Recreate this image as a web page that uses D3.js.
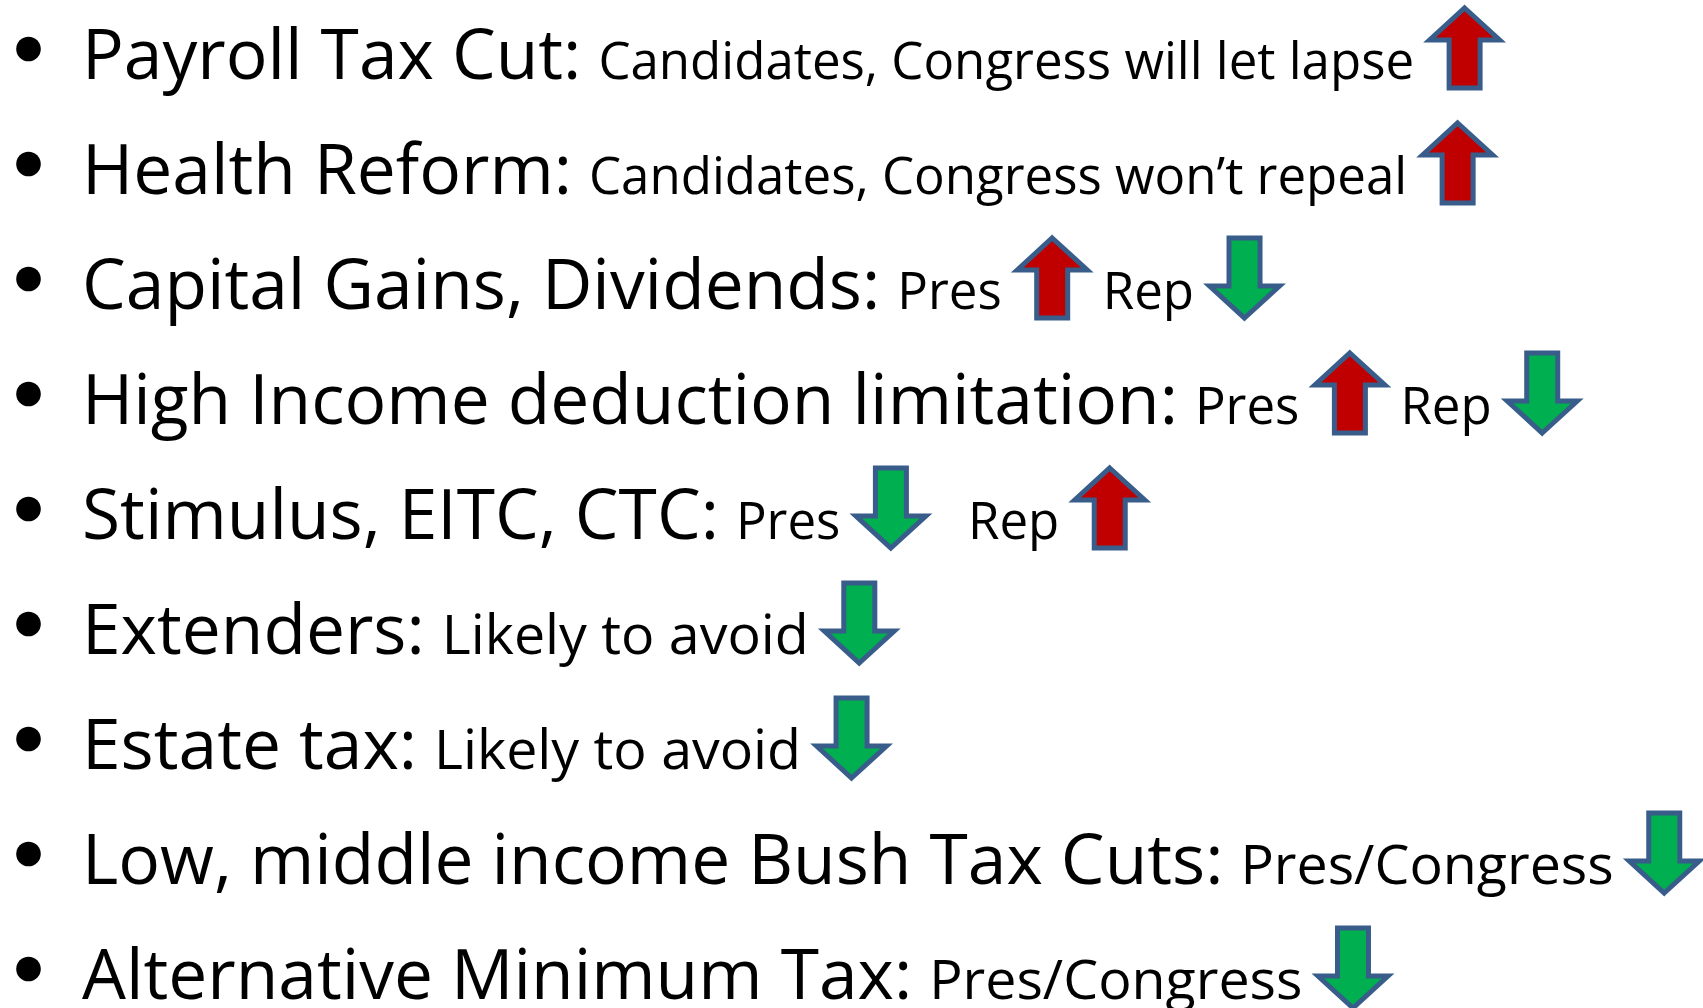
<!DOCTYPE html>
<html>
<head>
<meta charset="utf-8">
<script src="https://cdn.jsdelivr.net/npm/d3@7"></script>
<style>
  body { margin: 0; background: #fff; }
  svg { display: block; }
  text { white-space: pre; fill: #000; font-family: "Open Sans", "Noto Sans", sans-serif; }
</style>
</head>
<body>
<div id="slide"></div>
<script>
var UP = "up", DOWN = "down";

// headline of each bullet
var topics = [
  "Payroll Tax Cut:",
  "Health Reform:",
  "Capital Gains, Dividends:",
  "High Income deduction limitation:",
  "Stimulus, EITC, CTC:",
  "Extenders:",
  "Estate tax:",
  "Low, middle income Bush Tax Cuts:",
  "Alternative Minimum Tax:"
];

// smaller comment text and arrows (up = red, down = green) after each headline
var details = [
  ["Candidates, Congress will let lapse", UP],
  ["Candidates, Congress won\u2019t repeal", UP],
  ["Pres", UP, "Rep", DOWN],
  ["Pres", UP, "Rep", DOWN],
  ["Pres", DOWN, "  Rep", UP],
  ["Likely to avoid", DOWN],
  ["Likely to avoid", DOWN],
  ["Pres/Congress", DOWN],
  ["Pres/Congress", DOWN]
];

var width = 1703, height = 1008;
var bigSize = 69.5;
var textX = 82;
var arrowW = 70, arrowH = 80, shaftW = 31, headH = 32, arrowStroke = 5;
var arrowColor = { up: "#c00000", down: "#00b050" };

// the last four bullets use a slightly larger comment font
function detailSize(i) { return i < 5 ? 51 : 55.5; }

var svg = d3.select("#slide").append("svg")
    .attr("width", width)
    .attr("height", height);

// one row per bullet
var y = d3.scalePoint()
    .domain(d3.range(topics.length))
    .range([79, 999]);

var line = d3.line();

function arrowPoints(dir, cx, top) {
    var hw = arrowW / 2, sw = shaftW / 2;
    if (dir == UP) {
        return [[cx, top], [cx + hw, top + headH], [cx + sw, top + headH],
                [cx + sw, top + arrowH], [cx - sw, top + arrowH],
                [cx - sw, top + headH], [cx - hw, top + headH]];
    }
    var bot = top + arrowH;
    return [[cx, bot], [cx + hw, bot - headH], [cx + sw, bot - headH],
            [cx + sw, top], [cx - sw, top],
            [cx - sw, bot - headH], [cx - hw, bot - headH]];
}

topics.forEach(function(topic, i) {
    var base = y(i);
    var row = svg.append("g").attr("class", "row");

    row.append("circle")
        .attr("cx", 28.5)
        .attr("cy", base - 30)
        .attr("r", 12.3)
        .attr("fill", "#000");

    var head = row.append("text")
        .attr("x", textX)
        .attr("y", base)
        .style("font-size", bigSize + "px")
        .text(topic);

    var cursor = textX + head.node().getComputedTextLength() + 17;

    details[i].forEach(function(item) {
        if (item == UP || item == DOWN) {
            cursor += 13;
            var cx = cursor + arrowW / 2 + arrowStroke / 2;
            row.append("path")
                .attr("d", line(arrowPoints(item, cx, base - 71)) + "Z")
                .attr("fill", arrowColor[item])
                .attr("stroke", "#385d8a")
                .attr("stroke-width", arrowStroke)
                .attr("stroke-linejoin", "miter");
            cursor += arrowW + arrowStroke + 13;
        } else {
            var t = row.append("text")
                .attr("x", cursor)
                .attr("y", base)
                .style("font-size", detailSize(i) + "px")
                .text(item);
            cursor += t.node().getComputedTextLength();
        }
    });
});
</script>
</body>
</html>
